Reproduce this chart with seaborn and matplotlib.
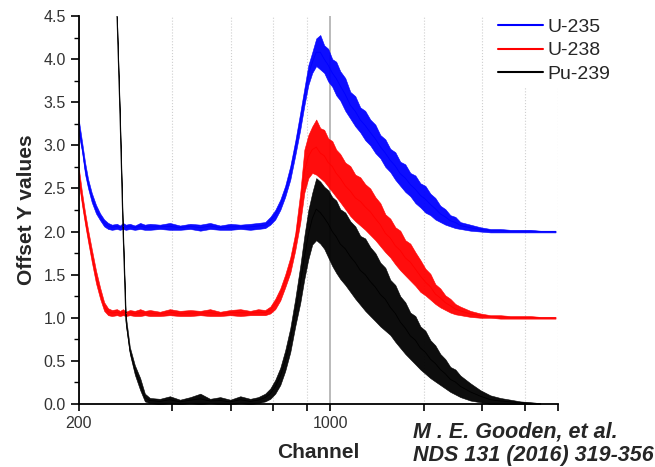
import matplotlib
matplotlib.use("Agg")
import matplotlib.pyplot as plt
import matplotlib.ticker as ticker
import pandas as pd
import seaborn as sns

sns.set_style("ticks")
plt.rcParams["font.family"] = ["Liberation Sans", "DejaVu Sans"]

# Channel grid and the low / high edge of each noisy trace
channel = [200, 204, 208, 212, 217, 223, 229, 235, 241, 247,
           255, 260, 265, 270, 277, 286, 296, 305, 315, 336,
           358, 382, 408, 435, 463, 494, 527, 562, 599, 630,
           659, 681, 703, 726, 749, 774, 799, 825, 847, 869,
           891, 914, 938, 962, 987, 1013, 1039, 1066, 1101, 1137,
           1174, 1212, 1251, 1292, 1335, 1378, 1423, 1469, 1517, 1566,
           1617, 1670, 1725, 1781, 1839, 1899, 1960, 2024, 2090, 2158,
           2229, 2301, 2454, 2616, 2790, 2973, 3171, 3380, 3606, 3842,
           4046, 4234]

u235_lo = [3.12, 2.92, 2.66, 2.50, 2.34, 2.21, 2.13, 2.06, 2.03, 2.02,
           2.03, 2.02, 2.03, 2.02, 2.03, 2.02, 2.03, 2.02, 2.02, 2.03,
           2.02, 2.02, 2.03, 2.01, 2.03, 2.02, 2.02, 2.03, 2.02, 2.03,
           2.04, 2.08, 2.14, 2.25, 2.40, 2.60, 2.88, 3.18, 3.46, 3.70,
           3.84, 3.92, 3.88, 3.84, 3.74, 3.68, 3.58, 3.52, 3.40, 3.31,
           3.22, 3.15, 3.06, 3.00, 2.91, 2.85, 2.75, 2.69, 2.60, 2.53,
           2.46, 2.41, 2.33, 2.28, 2.22, 2.19, 2.14, 2.11, 2.08, 2.06,
           2.04, 2.03, 2.01, 2.00, 1.99, 1.99, 1.99, 1.99, 1.99, 1.99,
           1.99, 1.99]
u235_hi = [3.28, 3.04, 2.80, 2.61, 2.45, 2.31, 2.21, 2.14, 2.10, 2.08,
           2.09, 2.07, 2.10, 2.08, 2.09, 2.07, 2.10, 2.08, 2.09, 2.08,
           2.10, 2.07, 2.09, 2.08, 2.10, 2.07, 2.09, 2.08, 2.09, 2.10,
           2.11, 2.17, 2.25, 2.37, 2.53, 2.76, 3.05, 3.38, 3.66, 3.93,
           4.08, 4.24, 4.28, 4.16, 4.12, 4.00, 3.97, 3.86, 3.78, 3.62,
           3.57, 3.44, 3.40, 3.30, 3.24, 3.12, 3.07, 2.96, 2.92, 2.81,
           2.78, 2.68, 2.65, 2.56, 2.53, 2.44, 2.39, 2.30, 2.26, 2.19,
           2.17, 2.11, 2.08, 2.05, 2.03, 2.03, 2.02, 2.02, 2.02, 2.01,
           2.01, 2.01]

u238_lo = [2.55, 2.30, 2.08, 1.88, 1.65, 1.40, 1.22, 1.08, 1.03, 1.02,
           1.03, 1.02, 1.03, 1.02, 1.03, 1.02, 1.02, 1.03, 1.02, 1.02,
           1.03, 1.02, 1.02, 1.03, 1.02, 1.02, 1.03, 1.02, 1.03, 1.03,
           1.03, 1.05, 1.10, 1.20, 1.35, 1.52, 1.78, 2.10, 2.45, 2.62,
           2.68, 2.66, 2.62, 2.58, 2.52, 2.46, 2.40, 2.34, 2.26, 2.18,
           2.12, 2.07, 2.02, 1.96, 1.90, 1.83, 1.76, 1.70, 1.62, 1.55,
           1.49, 1.43, 1.37, 1.30, 1.26, 1.21, 1.16, 1.12, 1.09, 1.06,
           1.04, 1.03, 1.01, 1.00, 1.00, 0.99, 0.99, 0.99, 0.99, 0.99,
           0.99, 0.99]
u238_hi = [2.72, 2.45, 2.22, 2.02, 1.80, 1.55, 1.35, 1.18, 1.11, 1.09,
           1.10, 1.08, 1.10, 1.07, 1.09, 1.08, 1.10, 1.08, 1.09, 1.07,
           1.10, 1.08, 1.09, 1.08, 1.10, 1.07, 1.09, 1.10, 1.08, 1.10,
           1.09, 1.13, 1.22, 1.34, 1.50, 1.70, 1.98, 2.45, 2.95, 3.12,
           3.22, 3.30, 3.20, 3.18, 3.08, 3.05, 2.95, 2.90, 2.80, 2.76,
           2.66, 2.63, 2.55, 2.50, 2.40, 2.33, 2.20, 2.15, 2.05, 2.01,
           1.90, 1.86, 1.76, 1.67, 1.57, 1.51, 1.39, 1.34, 1.26, 1.22,
           1.16, 1.13, 1.08, 1.05, 1.03, 1.03, 1.02, 1.02, 1.02, 1.01,
           1.01, 1.01]

nan = float("nan")
pu239_lo = [nan, nan, nan, nan, nan, nan, nan, nan, nan, nan,
            4.50, 3.30, 1.98, 0.92, 0.58, 0.34, 0.16, 0.03, 0.01, 0.00,
            0.01, 0.00, 0.01, 0.00, 0.01, 0.00, 0.00, 0.01, 0.00, 0.01,
            0.03, 0.06, 0.12, 0.22, 0.38, 0.60, 0.90, 1.17, 1.45, 1.68,
            1.85, 1.90, 1.86, 1.80, 1.70, 1.60, 1.52, 1.45, 1.38, 1.30,
            1.22, 1.15, 1.08, 1.02, 0.96, 0.90, 0.85, 0.80, 0.72, 0.65,
            0.58, 0.52, 0.46, 0.40, 0.35, 0.30, 0.26, 0.22, 0.18, 0.14,
            0.11, 0.08, 0.04, 0.02, 0.00, 0.00, 0.00, 0.00, 0.00, 0.00,
            nan, nan]
pu239_hi = [nan, nan, nan, nan, nan, nan, nan, nan, nan, nan,
            4.50, 3.36, 2.06, 1.02, 0.66, 0.45, 0.30, 0.12, 0.07, 0.06,
            0.09, 0.05, 0.08, 0.12, 0.06, 0.08, 0.05, 0.09, 0.06, 0.08,
            0.12, 0.18, 0.28, 0.42, 0.62, 0.88, 1.22, 1.60, 1.95, 2.25,
            2.45, 2.62, 2.58, 2.52, 2.48, 2.40, 2.36, 2.26, 2.22, 2.12,
            2.06, 1.95, 1.92, 1.82, 1.75, 1.64, 1.58, 1.44, 1.38, 1.25,
            1.18, 1.06, 1.02, 0.90, 0.85, 0.74, 0.68, 0.58, 0.52, 0.43,
            0.40, 0.33, 0.24, 0.16, 0.10, 0.07, 0.05, 0.03, 0.02, 0.01,
            nan, nan]

isotopes = ["U-235", "U-238", "Pu-239"]
colors = ["#0000ff", "#ff0000", "#000000"]
x_major = [200, 1000]
x_minor = [363, 530, 694, 860, 1825, 2650, 3470, 4300]

# long table: every channel gives its low and its high reading
bands = {"U-235": (u235_lo, u235_hi),
         "U-238": (u238_lo, u238_hi),
         "Pu-239": (pu239_lo, pu239_hi)}
rows = []
for name, (lo, hi) in bands.items():
    for ch, a, b in zip(channel, lo, hi):
        rows.append((name, ch, a))
        rows.append((name, ch, b))
df = pd.DataFrame(rows, columns=["isotope", "channel", "value"]).dropna()

fig = plt.figure(figsize=(6.55, 4.67), dpi=100)
ax = fig.add_axes([0.1206, 0.1349, 0.7313, 0.8308])
ax.set_xscale("log")

# mean line plus a min-max band gives the look of the noisy spectra
sns.lineplot(data=df, x="channel", y="value", hue="isotope",
             hue_order=isotopes, palette=colors,
             errorbar=("pi", 100), err_kws={"alpha": 0.95, "linewidth": 0.4},
             linewidth=0.6, ax=ax)

ax.set_xlim(200, 4300)
ax.set_ylim(0, 4.5)
ax.xaxis.set_major_locator(ticker.FixedLocator(x_major))
ax.xaxis.set_major_formatter(ticker.FixedFormatter([str(v) for v in x_major]))
ax.xaxis.set_minor_locator(ticker.FixedLocator(x_minor))
ax.xaxis.set_minor_formatter(ticker.NullFormatter())
ax.yaxis.set_major_locator(ticker.MultipleLocator(0.5))
ax.yaxis.set_minor_locator(ticker.MultipleLocator(0.25))
ax.yaxis.set_major_formatter(ticker.StrMethodFormatter("{x:.1f}"))

ax.set_axisbelow(True)
ax.grid(which="major", axis="x", color="#b4b4b4", linewidth=1.3, linestyle="-")
ax.grid(which="minor", axis="x", color="#cfcfcf", linewidth=0.8, linestyle=":")

for side in ["top", "right"]:
    ax.spines[side].set_visible(False)
for side in ["left", "bottom"]:
    ax.spines[side].set_linewidth(1.3)
    ax.spines[side].set_color("black")
ax.tick_params(axis="both", which="both", direction="out", color="black",
               labelsize=11.5, labelcolor="#333333")
ax.tick_params(axis="y", which="major", length=6, width=1.2)
ax.tick_params(axis="y", which="minor", length=3.5, width=1.0)
ax.tick_params(axis="x", which="both", length=5, width=1.2)

ax.set_xlabel("Channel", fontsize=15, fontweight="bold")
ax.set_ylabel("Offset Y values", fontsize=15, fontweight="bold")
ax.xaxis.set_label_coords(0.5, -0.1)
ax.yaxis.set_label_coords(-0.09, 0.5)

sns.move_legend(ax, "upper left", bbox_to_anchor=(494 / 655, 1 - 14 / 467),
                bbox_transform=fig.transFigure, title=None, frameon=True,
                facecolor="white", edgecolor="none", framealpha=1,
                fontsize=14, handlelength=2.3, handletextpad=0.25,
                labelspacing=0.32, borderpad=0.2, borderaxespad=0)
for h in ax.get_legend().legend_handles:
    h.set_linewidth(1.5)

fig.text(413 / 655, 1 - 432 / 467, "M . E. Gooden, et al.", fontsize=15.5,
         fontweight="bold", fontstyle="italic", ha="left", va="center")
fig.text(413 / 655, 1 - 455 / 467, "NDS 131 (2016) 319-356", fontsize=15.5,
         fontweight="bold", fontstyle="italic", ha="left", va="center")

fig.savefig("out.png", dpi=100)
